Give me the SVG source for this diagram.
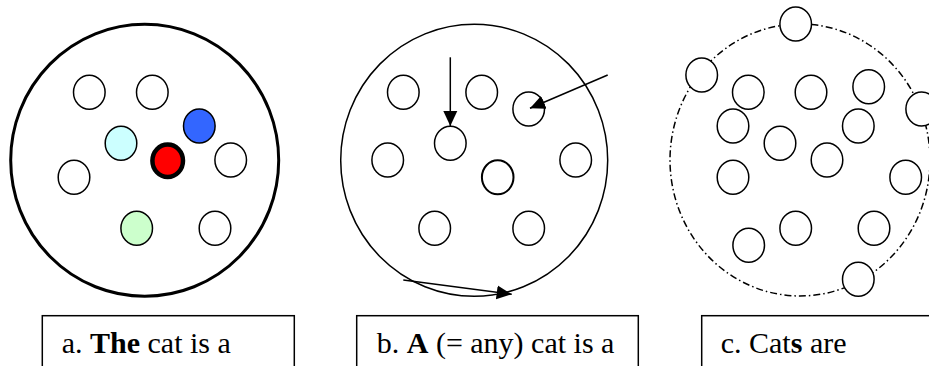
<svg xmlns="http://www.w3.org/2000/svg" width="929" height="366" viewBox="0 0 929 366">
<defs>
<style>
.sm{fill:#fff;stroke:#000;stroke-width:1.5}
.box{fill:#fff;stroke:#000;stroke-width:1.5}
.conn{fill:none;stroke:#000;stroke-width:1.5}
</style>
<marker id="ah" markerUnits="userSpaceOnUse" markerWidth="16" markerHeight="16" viewBox="0 0 16 16" refX="15" refY="8" orient="auto">
<path d="M0,1 L15,8 L0,15 Z" fill="#000"/>
</marker>
</defs>
<rect width="929" height="366" fill="#fff"/>

<g id="panel-a">
<ellipse cx="144.7" cy="160.3" rx="134" ry="136" fill="#fff" stroke="#000" stroke-width="3"/>
<ellipse class="sm" cx="89.3" cy="92.3" rx="15.8" ry="17"/>
<ellipse class="sm" cx="152.3" cy="92.3" rx="15.8" ry="17"/>
<ellipse class="sm" cx="199.3" cy="126" rx="15.8" ry="17" style="fill:#3366FF"/>
<ellipse class="sm" cx="121" cy="143.3" rx="15.8" ry="17" style="fill:#CCFFFF"/>
<ellipse cx="167.7" cy="160.7" rx="15.3" ry="16.3" fill="#FF0000" stroke="#000" stroke-width="4.5"/>
<ellipse class="sm" cx="230.7" cy="160" rx="15.8" ry="17"/>
<ellipse class="sm" cx="74" cy="177.3" rx="15.8" ry="17"/>
<ellipse class="sm" cx="136.7" cy="228.3" rx="15.8" ry="17" style="fill:#CCFFCC"/>
<ellipse class="sm" cx="215" cy="228.3" rx="15.8" ry="17"/>
</g>

<g id="panel-b">
<ellipse cx="474.2" cy="160.3" rx="133.5" ry="136" fill="#fff" stroke="#000" stroke-width="1.5"/>
<ellipse class="sm" cx="403.3" cy="92.3" rx="15.8" ry="17"/>
<ellipse class="sm" cx="481.7" cy="92.3" rx="15.8" ry="17"/>
<ellipse class="sm" cx="528.7" cy="109" rx="15.8" ry="17"/>
<ellipse class="sm" cx="450.3" cy="143.3" rx="15.8" ry="17"/>
<ellipse class="sm" cx="387.7" cy="160" rx="15.8" ry="17"/>
<ellipse class="sm" cx="575.7" cy="160" rx="15.8" ry="17"/>
<ellipse class="sm" cx="497.7" cy="177.3" rx="15.8" ry="17" style="stroke-width:2"/>
<ellipse class="sm" cx="434.7" cy="228.3" rx="15.8" ry="17"/>
<ellipse class="sm" cx="528.7" cy="228.3" rx="15.8" ry="17"/>
</g>

<g id="panel-c">
<ellipse cx="800" cy="160" rx="130" ry="136" fill="none" stroke="#000" stroke-width="1.5" stroke-dasharray="7 3 1.5 3"/>
<ellipse class="sm" cx="795.7" cy="24" rx="15.8" ry="17"/>
<ellipse class="sm" cx="701.7" cy="75" rx="15.8" ry="17"/>
<ellipse class="sm" cx="748.3" cy="92.3" rx="15.8" ry="17"/>
<ellipse class="sm" cx="811" cy="92.3" rx="15.8" ry="17"/>
<ellipse class="sm" cx="868.7" cy="86.7" rx="15.8" ry="17"/>
<ellipse class="sm" cx="921.7" cy="109" rx="15.8" ry="17"/>
<ellipse class="sm" cx="733" cy="126" rx="15.8" ry="17"/>
<ellipse class="sm" cx="858.3" cy="126" rx="15.8" ry="17"/>
<ellipse class="sm" cx="780" cy="143.3" rx="15.8" ry="17"/>
<ellipse class="sm" cx="827" cy="160" rx="15.8" ry="17"/>
<ellipse class="sm" cx="733" cy="177.3" rx="15.8" ry="17"/>
<ellipse class="sm" cx="905.7" cy="177.3" rx="15.8" ry="17"/>
<ellipse class="sm" cx="795.7" cy="228.3" rx="15.8" ry="17"/>
<ellipse class="sm" cx="874" cy="228.3" rx="15.8" ry="17"/>
<ellipse class="sm" cx="748.7" cy="245.3" rx="15.8" ry="17"/>
<ellipse class="sm" cx="858.3" cy="279.3" rx="15.8" ry="17"/>
</g>

<g id="connectors">
<line class="conn" x1="450.3" y1="57.3" x2="450.3" y2="126" marker-end="url(#ah)"/>
<line class="conn" x1="607.7" y1="75" x2="530" y2="108.3" marker-end="url(#ah)"/>
<line class="conn" x1="403.3" y1="280" x2="511.7" y2="294.3" marker-end="url(#ah)"/>
</g>

<g id="label-a">
<rect class="box" x="42.3" y="315.7" width="252" height="70"/>
<text x="61.7" y="353.3" font-family="Liberation Serif" font-size="30" fill="#000">a.</text>
<text x="90" y="353.3" font-family="Liberation Serif" font-size="30" font-weight="bold" fill="#000">The</text>
<text x="147.5" y="353.3" font-family="Liberation Serif" font-size="30" fill="#000">cat is a</text>
</g>
<g id="label-b">
<rect class="box" x="356.7" y="315.7" width="281.6" height="70"/>
<text x="376.7" y="353.3" font-family="Liberation Serif" font-size="30" fill="#000">b.</text>
<text x="406.7" y="353.3" font-family="Liberation Serif" font-size="30" font-weight="bold" fill="#000">A</text>
<text x="435.9" y="353.3" font-family="Liberation Serif" font-size="30" fill="#000">(= any) cat is a</text>
</g>
<g id="label-c">
<rect class="box" x="701.7" y="315.7" width="260" height="70"/>
<text x="720.7" y="353.3" font-family="Liberation Serif" font-size="30" fill="#000">c. Cat</text>
<text x="790.7" y="353.3" font-family="Liberation Serif" font-size="30" font-weight="bold" fill="#000">s</text>
<text x="809.9" y="353.3" font-family="Liberation Serif" font-size="30" fill="#000">are</text>
</g>
</svg>
